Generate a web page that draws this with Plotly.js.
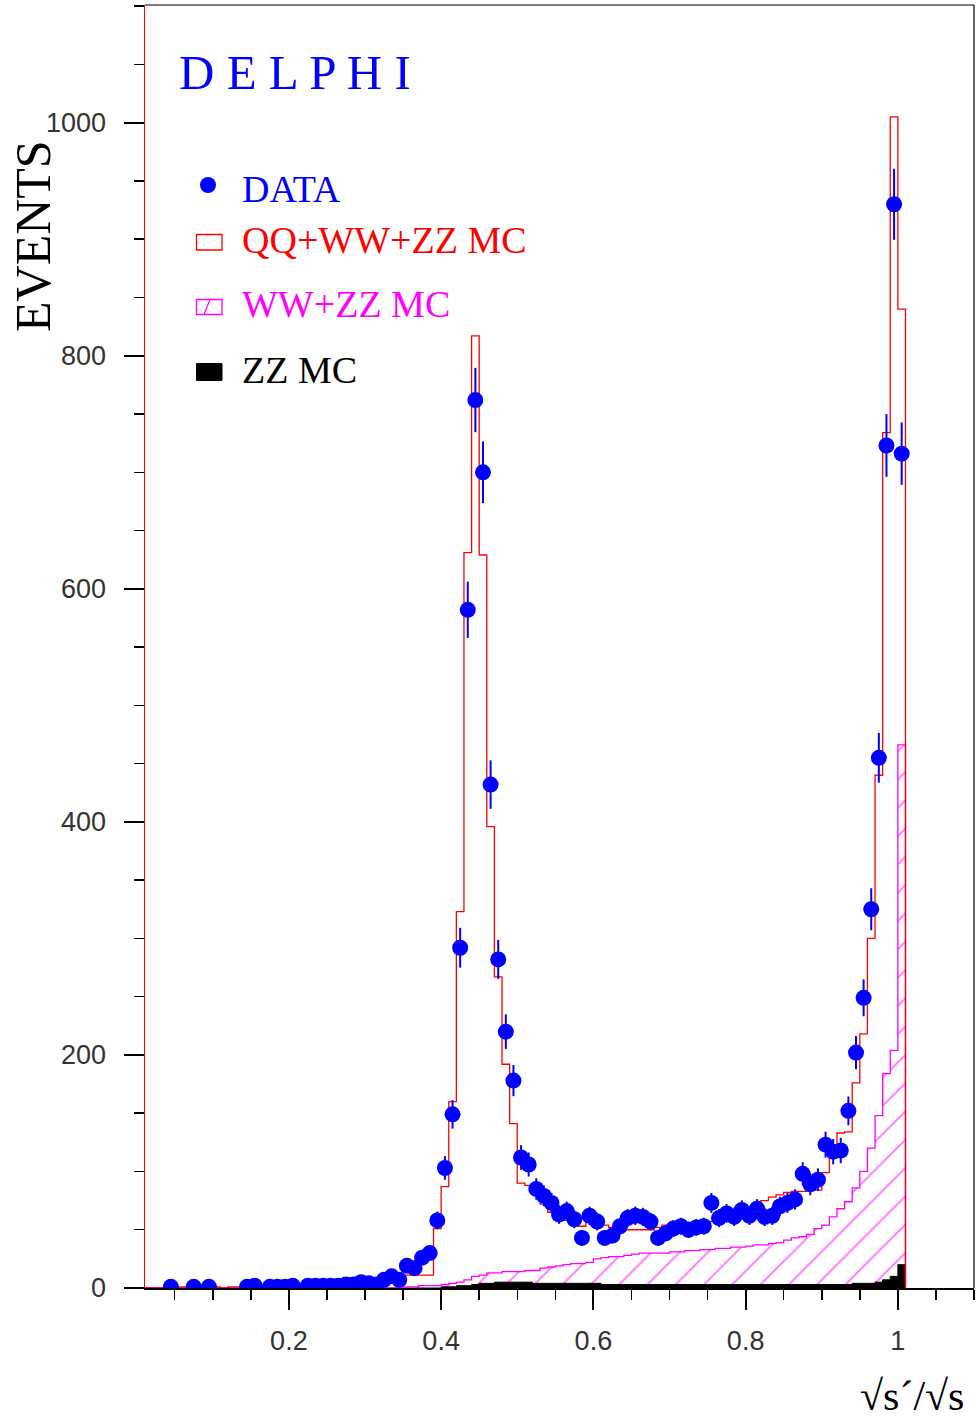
<!DOCTYPE html>
<html>
<head>
<meta charset="utf-8">
<script src="https://cdn.plot.ly/plotly-3.0.1.min.js"></script>
<style>html,body{margin:0;padding:0;background:#fff;}#chart{width:978px;height:1418px;}</style>
</head>
<body>
<div id="chart"></div>
<script>
// ---------- DATA (bins of width 0.01 in sqrt(s')/sqrt(s)) ----------
const binWidth = 0.01;
const binLow = [
0.00,0.01,0.02,0.03,0.04,0.05,0.06,0.07,0.08,0.09,
0.10,0.11,0.12,0.13,0.14,0.15,0.16,0.17,0.18,0.19,
0.20,0.21,0.22,0.23,0.24,0.25,0.26,0.27,0.28,0.29,
0.30,0.31,0.32,0.33,0.34,0.35,0.36,0.37,0.38,0.39,
0.40,0.41,0.42,0.43,0.44,0.45,0.46,0.47,0.48,0.49,
0.50,0.51,0.52,0.53,0.54,0.55,0.56,0.57,0.58,0.59,
0.60,0.61,0.62,0.63,0.64,0.65,0.66,0.67,0.68,0.69,
0.70,0.71,0.72,0.73,0.74,0.75,0.76,0.77,0.78,0.79,
0.80,0.81,0.82,0.83,0.84,0.85,0.86,0.87,0.88,0.89,
0.90,0.91,0.92,0.93,0.94,0.95,0.96,0.97,0.98,0.99,
1.00];

// QQ+WW+ZZ MC (total)
const mcTotal = [
0,0,0,0,1,1,1,1,1,1,
1,0,1,1,1,1,1,1,1,1,
1,1,1,1,1,2,2,2,2,3,
3,4,4,5,8,11,11,11,11,51,
87,160,323,631,817,629,396,267,192,141,
90,88,80,72,65,62,58,55,53,58,
57,54,52,51,50,50,50,50,52,54,
54,55,56,56,57,57,59,61,63,66,
69,72,75,78,80,82,83,83,84,84,
99,118,133,134,176,218,300,440,734,1005,
840];

// WW+ZZ MC
const mcWWZZ = [
0,0,0,0,0,0,0,0,0,0,
0,0,0,0,0,0,0,0,0,0,
0,0,0,0,0,0,0,0,0,0,
0,0,0,0,1,1,1,2,2,2,
3,4,5,7,10,11,13,13,14,14,
14,15,15,17,18,19,20,21,21,22,
25,26,27,27,28,29,30,30,30,30,
31,31,32,32,33,33,34,34,35,35,
36,37,37,38,39,41,43,44,46,51,
54,61,68,74,86,100,120,148,184,204,
466];

// ZZ MC
const mcZZ = [
0,0,0,0,0,0,0,0,0,0,
0,0,0,0,0,0,0,0,0,0,
0,0,0,0,0,0,0,0,0,0,
0,0,0,0,0,0,0,0,0,0,
1,1,2,2,3,4,4,5,5,5,
5,5,4,4,4,4,4,4,4,4,
4,3,3,3,3,3,3,3,3,3,
3,3,3,3,3,3,3,3,3,3,
3,3,3,3,3,3,3,3,3,3,
3,3,3,3,4,4,4,5,7,10,
20];

// DATA (events per bin, null = empty bin)
const dataEvents = [
null,null,null,null,1,null,null,1,null,1,
null,null,null,null,1,2,null,1,1,1,
2,null,2,2,2,2,2,3,3,5,
4,3,7,10,7,19,17,26,30,58,
103,149,292,582,762,700,432,282,220,178,
112,106,85,79,73,63,66,59,43,62,
57,43,45,53,60,62,61,57,43,47,
51,53,50,52,53,73,60,64,61,67,
62,68,61,62,70,73,76,98,89,93,
123,117,118,152,202,249,325,455,723,930,
716];

const legendLabels = ["DATA", "QQ+WW+ZZ MC", "WW+ZZ MC", "ZZ MC"];
const xTitle = "√s´/√s";
const yTitle = "EVENTS";
const experiment = "D E L P H I";

// ---------- derived (through bins) ----------
const edges = binLow.concat([+(binLow[binLow.length-1] + binWidth).toFixed(2)]);
const centers = binLow.map(v => v + binWidth/2);
function stepY(vals){ return vals.concat([0]); }

const BLUE = '#0000ff', RED = '#ff0000', MAG = '#ff00ff';

const traces = [
  { // hatched WW+ZZ fill
    type:'bar', x:centers, y:mcWWZZ, width:binWidth, hoverinfo:'skip', showlegend:false,
    marker:{color:'rgba(0,0,0,0)', line:{width:0},
      pattern:{shape:'/', fgcolor:MAG, bgcolor:'rgba(0,0,0,0)', size:20, solidity:0.1, fillmode:'overlay'}}
  },
  { // ZZ filled black
    type:'scatter', mode:'lines', x:edges, y:stepY(mcZZ), line:{shape:'hv', color:'#000', width:1},
    fill:'tozeroy', fillcolor:'#000', showlegend:false, hoverinfo:'skip'
  },
  { // WW+ZZ outline
    type:'scatter', mode:'lines', x:edges, y:stepY(mcWWZZ), line:{shape:'hv', color:MAG, width:1.3},
    showlegend:false, hoverinfo:'skip'
  },
  { // total MC outline
    type:'scatter', mode:'lines', x:edges, y:stepY(mcTotal), line:{shape:'hv', color:RED, width:1.3},
    showlegend:false, hoverinfo:'skip'
  },
  { // data
    type:'scatter', mode:'markers', x:centers, y:dataEvents,
    marker:{color:BLUE, size:16, symbol:'circle'},
    error_y:{type:'sqrt', color:BLUE, thickness:2, width:0},
    showlegend:false
  }
];

// pixel -> paper helpers for decorations (plot area: x 145..974, y 5..1288)
const L = 145, R = 974, T = 5, B = 1288;
const px = x => (x - L) / (R - L);
const py = y => (B - y) / (B - T);

const serif = 'Liberation Serif, Times New Roman, serif';

const shapes = [
  {type:'line', xref:'paper', yref:'paper', x0:1, x1:1, y0:0, y1:1, line:{color:'#000', width:1.2}},
  {type:'line', xref:'paper', yref:'paper', x0:0, x1:1, y0:1, y1:1, line:{color:'#000', width:1.2}},
  // legend symbols
  {type:'circle', xref:'paper', yref:'paper', x0:px(200), x1:px(216), y0:py(193), y1:py(177), fillcolor:BLUE, line:{width:0}},
  {type:'rect', xref:'paper', yref:'paper', x0:px(196.5), x1:px(222), y0:py(250), y1:py(234.5), fillcolor:'rgba(0,0,0,0)', line:{color:RED, width:1.3}},
  {type:'rect', xref:'paper', yref:'paper', x0:px(196.5), x1:px(222), y0:py(314.5), y1:py(299.5), fillcolor:'rgba(0,0,0,0)', line:{color:MAG, width:1.3}},
  {type:'line', xref:'paper', yref:'paper', x0:px(204), x1:px(210), y0:py(314.5), y1:py(299.5), line:{color:MAG, width:1.2}},
  {type:'rect', xref:'paper', yref:'paper', x0:px(196.5), x1:px(222), y0:py(380.5), y1:py(363.5), fillcolor:'#000', line:{color:'#000', width:1}}
];

const annotations = [
  {text:experiment, xref:'paper', yref:'paper', x:px(177), y:py(73), xanchor:'left', yanchor:'middle', showarrow:false,
   font:{family:serif, size:49, color:BLUE}},
  {text:legendLabels[0], xref:'paper', yref:'paper', x:px(240), y:py(189), xanchor:'left', yanchor:'middle', showarrow:false,
   font:{family:serif, size:38, color:BLUE}},
  {text:legendLabels[1], xref:'paper', yref:'paper', x:px(240), y:py(240), xanchor:'left', yanchor:'middle', showarrow:false,
   font:{family:serif, size:38, color:RED}},
  {text:legendLabels[2], xref:'paper', yref:'paper', x:px(240), y:py(304), xanchor:'left', yanchor:'middle', showarrow:false,
   font:{family:serif, size:38, color:MAG}},
  {text:legendLabels[3], xref:'paper', yref:'paper', x:px(240), y:py(370), xanchor:'left', yanchor:'middle', showarrow:false,
   font:{family:serif, size:38, color:'#000'}},
  {text:yTitle, xref:'paper', yref:'paper', x:px(33), y:py(236), xanchor:'center', yanchor:'middle', textangle:-90, showarrow:false,
   font:{family:serif, size:50, color:'#000'}},
  {text:xTitle, xref:'paper', yref:'paper', x:px(966), y:py(1396), xanchor:'right', yanchor:'middle', showarrow:false,
   font:{family:serif, size:42, color:'#000'}}
];

const tickFont = {family:'Liberation Sans, Arial, sans-serif', size:27, color:'#333'};

const layout = {
  width:978, height:1418,
  margin:{l:L, r:978-R, t:T, b:1418-B, pad:0},
  paper_bgcolor:'#fff', plot_bgcolor:'#fff',
  showlegend:false,
  bargap:0, barmode:'overlay',
  xaxis:{
    range:[0.011, 1.1], tick0:0, dtick:0.2, ticks:'outside', ticklen:20, tickwidth:2, tickcolor:'#000',
    minor:{dtick:0.05, ticks:'outside', ticklen:10, tickwidth:1.5, tickcolor:'#000'},
    showgrid:false, zeroline:false, showline:true, linecolor:'#000', linewidth:2,
    tickfont:tickFont, ticklabelstandoff:8
  },
  yaxis:{
    range:[0, 1101], tick0:0, dtick:200, ticks:'outside', ticklen:20, tickwidth:2, tickcolor:'#000',
    minor:{dtick:50, ticks:'outside', ticklen:10, tickwidth:1.5, tickcolor:'#000'},
    showgrid:false, zeroline:false, showline:true, linecolor:RED, linewidth:1.5,
    tickfont:tickFont, ticklabelstandoff:12
  },
  shapes:shapes,
  annotations:annotations
};

Plotly.newPlot('chart', traces, layout, {displayModeBar:false, staticPlot:true});
</script>
</body>
</html>
